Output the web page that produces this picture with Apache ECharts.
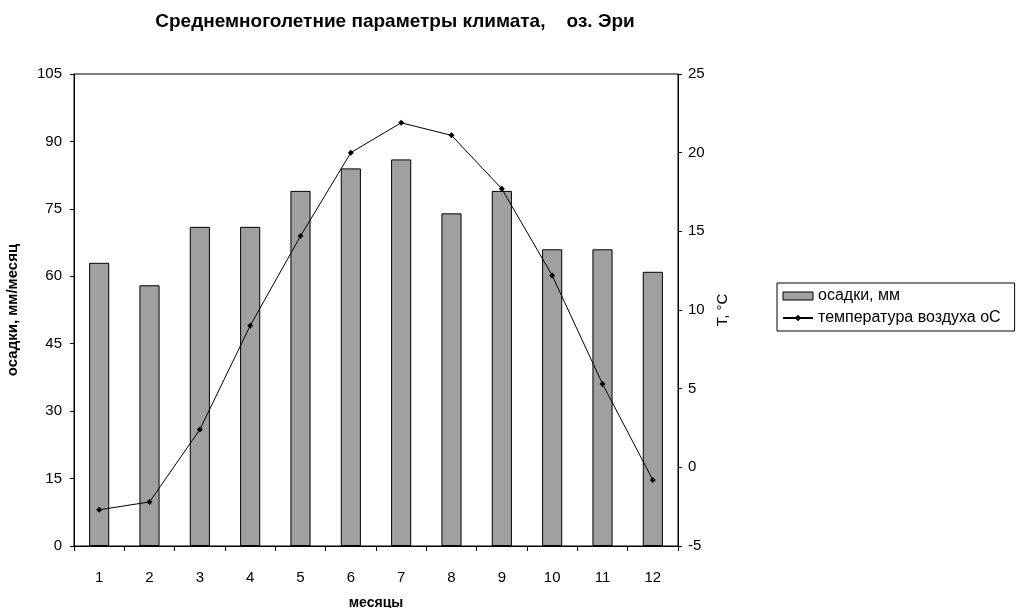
<!DOCTYPE html>
<html>
<head>
<meta charset="utf-8">
<script src="https://cdn.jsdelivr.net/npm/echarts@6/dist/echarts.min.js"></script>
<style>
  html, body { margin: 0; padding: 0; background: #fff; }
  #chart { width: 1017px; height: 608px; }
</style>
</head>
<body>
<div id="chart"></div>
<script>
// Months along the category axis
const months = ['1', '2', '3', '4', '5', '6', '7', '8', '9', '10', '11', '12'];
// Monthly precipitation, mm
const precipitation = [63, 58, 71, 71, 79, 84, 86, 74, 79, 66, 66, 61];
// Mean air temperature, °C
const temperature = [-2.7, -2.2, 2.4, 9.0, 14.7, 20.0, 21.9, 21.1, 17.7, 12.2, 5.3, -0.8];

const FONT = '"Liberation Sans", Arial, sans-serif';

const chart = echarts.init(document.getElementById('chart'), null, { renderer: 'canvas' });

chart.setOption({
  animation: false,
  backgroundColor: '#ffffff',
  textStyle: { fontFamily: FONT, color: '#000' },
  title: {
    text: 'Среднемноголетние параметры климата,    оз. Эри',
    left: 390,
    top: 7,
    textAlign: 'center',
    textStyle: { fontFamily: FONT, fontSize: 19, fontWeight: 'bold', color: '#000' }
  },
  legend: {
    orient: 'vertical',
    left: 777,
    top: 283,
    borderColor: '#000',
    borderWidth: 1,
    padding: [5, 14, 5, 5],
    itemGap: 6,
    itemWidth: 30,
    itemHeight: 8,
    textStyle: { fontFamily: FONT, fontSize: 16, color: '#000' },
    data: [
      { name: 'осадки, мм', icon: 'rect', itemStyle: { color: '#a0a0a0', borderColor: '#000', borderWidth: 1 } },
      { name: 'температура воздуха оС' }
    ]
  },
  grid: {
    left: 74,
    right: 339,
    top: 74,
    bottom: 62,
    outerBoundsMode: 'none',
    containLabel: false,
    show: true,
    borderColor: '#000',
    borderWidth: 1,
    backgroundColor: '#fff'
  },
  xAxis: {
    type: 'category',
    data: months,
    boundaryGap: true,
    name: 'месяцы',
    nameLocation: 'middle',
    nameGap: 50,
    nameTextStyle: { fontFamily: FONT, fontSize: 14, fontWeight: 'bold', color: '#000' },
    axisLine: { lineStyle: { color: '#000', width: 1 } },
    axisTick: { show: true, alignWithLabel: false, length: 5, lineStyle: { color: '#000' } },
    axisLabel: { margin: 24, fontFamily: FONT, fontSize: 15, color: '#000' },
    splitLine: { show: false }
  },
  yAxis: [
    {
      type: 'value',
      min: 0,
      max: 105,
      interval: 15,
      position: 'left',
      name: 'осадки, мм/месяц',
      nameLocation: 'middle',
      nameGap: 54,
      nameTextStyle: { fontFamily: FONT, fontSize: 15, fontWeight: 'bold', color: '#000' },
      axisLine: { show: true, lineStyle: { color: '#000', width: 1 } },
      axisTick: { show: true, length: 4, lineStyle: { color: '#000' } },
      axisLabel: { margin: 12, fontFamily: FONT, fontSize: 15, color: '#000' },
      splitLine: { show: false }
    },
    {
      type: 'value',
      min: -5,
      max: 25,
      interval: 5,
      position: 'right',
      name: 'Т, °С',
      nameLocation: 'middle',
      nameGap: 36,
      nameRotate: 90,
      nameTextStyle: { fontFamily: FONT, fontSize: 15, color: '#000' },
      axisLine: { show: true, lineStyle: { color: '#000', width: 1 } },
      axisTick: { show: true, length: 4, lineStyle: { color: '#000' } },
      axisLabel: { margin: 10, fontFamily: FONT, fontSize: 15, color: '#000' },
      splitLine: { show: false }
    }
  ],
  series: [
    {
      name: 'осадки, мм',
      type: 'bar',
      yAxisIndex: 0,
      data: precipitation,
      barWidth: '40%',
      itemStyle: { color: '#a0a0a0', borderColor: '#000', borderWidth: 1 }
    },
    {
      name: 'температура воздуха оС',
      type: 'line',
      yAxisIndex: 1,
      data: temperature,
      symbol: 'diamond',
      symbolSize: 6,
      lineStyle: { color: '#000', width: 1 },
      itemStyle: { color: '#000' }
    }
  ]
});
</script>
</body>
</html>
